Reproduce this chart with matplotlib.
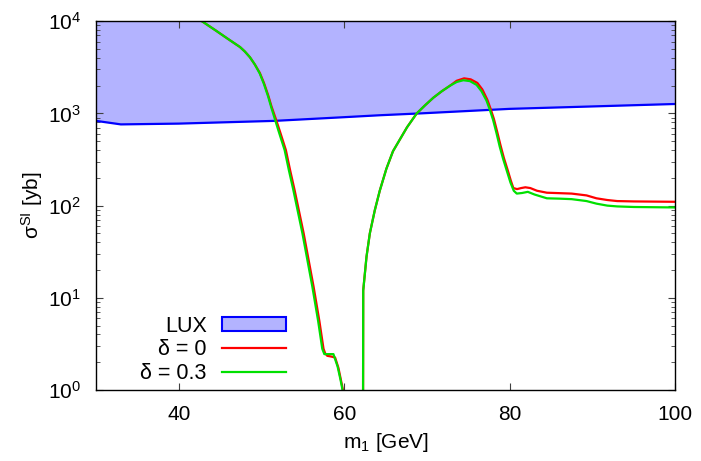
import matplotlib
matplotlib.use("Agg")
import matplotlib.pyplot as plt
from matplotlib.patches import Patch
from matplotlib.lines import Line2D
from matplotlib.ticker import LogLocator, NullFormatter

plt.rcParams['font.family'] = ['Liberation Sans', 'DejaVu Sans']
plt.rcParams['mathtext.default'] = 'regular'

# LUX exclusion limit
lux_m = [30, 33, 40, 51.6, 60, 64.3, 69.2, 80, 90, 100]
lux_s = [830, 760, 775, 830, 910, 955, 1000, 1120, 1190, 1265]

# delta = 0
red_m = [42.0, 42.8, 44.5, 46.0, 47.4, 48.0, 48.6, 49.2, 49.8, 50.3, 50.8, 51.2, 51.7,
         52.25, 52.95, 53.45, 54.0, 55.1, 56.3, 57.0, 57.5, 57.7, 57.95, 58.5, 58.9,
         59.3, 59.6, 59.85, 60.0,
         62.25, 62.3, 62.7, 63.1, 63.7, 64.3, 65.1, 65.9, 66.75, 67.6, 68.77, 69.8,
         70.78, 71.8, 72.8, 73.6, 74.5, 75.3, 76.1, 76.7, 77.3, 77.7, 78.1, 78.5, 78.9,
         79.3, 79.75, 80.15, 80.45, 80.9, 81.4, 81.9, 82.5, 83.3, 84.5, 86.0, 87.5,
         89.3, 90.5, 91.8, 93.0, 95.0, 100.0]
red_s = [11200, 10000, 7900, 6380, 5250, 4680, 4070, 3390, 2750, 2140, 1585, 1200, 890,
         630, 400, 245, 148, 50, 13.2, 5.6, 2.8, 2.5, 2.35, 2.3, 2.25,
         1.74, 1.29, 1.0, 0.01,
         0.01, 12, 28, 50, 89, 145, 251, 389, 525, 708, 1000, 1230,
         1480, 1740, 2000, 2260, 2400, 2340, 2140, 1820, 1410, 1120, 870, 630, 450,
         330, 245, 186, 155, 151, 155, 158, 155, 145, 138, 136.5, 135,
         129, 120, 115, 112, 111, 110]

# delta = 0.3
grn_m = [42.0, 42.8, 44.5, 46.0, 47.4, 48.0, 48.6, 49.2, 49.8, 50.3, 50.8, 51.2, 51.6,
         52.1, 52.8, 53.3, 53.85, 54.95, 56.15, 56.85, 57.35, 57.6, 58.0, 58.7, 59.2,
         59.55, 59.8, 59.95,
         62.25, 62.3, 62.7, 63.1, 63.7, 64.3, 65.1, 65.9, 66.75, 67.6, 68.77, 69.8,
         70.78, 71.8, 72.8, 73.6, 74.4, 75.2, 76.0, 76.6, 77.2, 77.6, 78.0, 78.4, 78.8,
         79.2, 79.65, 80.1, 80.5, 80.86, 81.5, 82.2, 83.0, 84.5, 86.0, 87.5,
         89.3, 90.5, 91.8, 93.0, 95.0, 100.0]
grn_s = [11200, 10000, 7900, 6380, 5250, 4680, 4070, 3390, 2700, 2080, 1530, 1150, 880,
         630, 400, 245, 148, 50, 13.2, 5.6, 2.8, 2.45, 2.45, 2.45, 1.8,
         1.3, 1.0, 0.01,
         0.01, 12, 28, 50, 89, 145, 251, 389, 525, 708, 1000, 1230,
         1480, 1740, 2000, 2190, 2290, 2240, 2040, 1740, 1380, 1100, 850, 617, 437,
         324, 240, 178, 145, 135, 137, 141, 132, 120, 119, 117.5,
         112, 105, 100, 98, 96.6, 95.5]

fig = plt.figure(figsize=(7.01, 4.61), dpi=100)
ax = fig.add_axes([0.137, 0.154, 0.826, 0.8])

lux_fill = "#b3b3ff"
ax.fill_between(lux_m, lux_s, 1e5, color=lux_fill, lw=0)
ax.plot(lux_m, lux_s, color="#0000ff", lw=1.6)
ax.plot(red_m, red_s, color="#ff0000", lw=1.6)
ax.plot(grn_m, grn_s, color="#00e000", lw=1.6)

ax.set_xlim(30, 100)
ax.set_ylim(1, 1e4)
ax.set_yscale("log")
ax.set_xticks([40, 60, 80, 100])
ax.yaxis.set_major_locator(LogLocator(base=10, numticks=10))
ax.yaxis.set_minor_locator(LogLocator(base=10, subs=range(2, 10), numticks=20))
ax.yaxis.set_minor_formatter(NullFormatter())

ax.tick_params(which="both", direction="in", top=True, right=True, labelsize=15,
               color="#404040")
ax.tick_params(which="major", length=5, width=0.8, pad=11)
ax.tick_params(which="minor", length=3, width=0.6)
for s in ax.spines.values():
    s.set_linewidth(1.0)

ax.set_xlabel("m$_1$ [GeV]", fontsize=15, labelpad=5)
ax.set_ylabel("σ$^{SI}$ [yb]", fontsize=15, labelpad=2)

handles = [Patch(facecolor=lux_fill, edgecolor="#0000ff", lw=1.5),
           Line2D([], [], color="#ff0000", lw=1.6),
           Line2D([], [], color="#00e000", lw=1.6)]
labels = ["LUX", "δ = 0", "δ = 0.3"]
leg = ax.legend(handles, labels, loc="lower left", bbox_to_anchor=(0.043, -0.036),
                frameon=False, markerfirst=False, fontsize=15.5, handlelength=3.0,
                handleheight=0.6, handletextpad=0.7, labelspacing=0.12)
for t in leg.get_texts():
    t.set_ha("right")

fig.savefig("out.png", dpi=100)
